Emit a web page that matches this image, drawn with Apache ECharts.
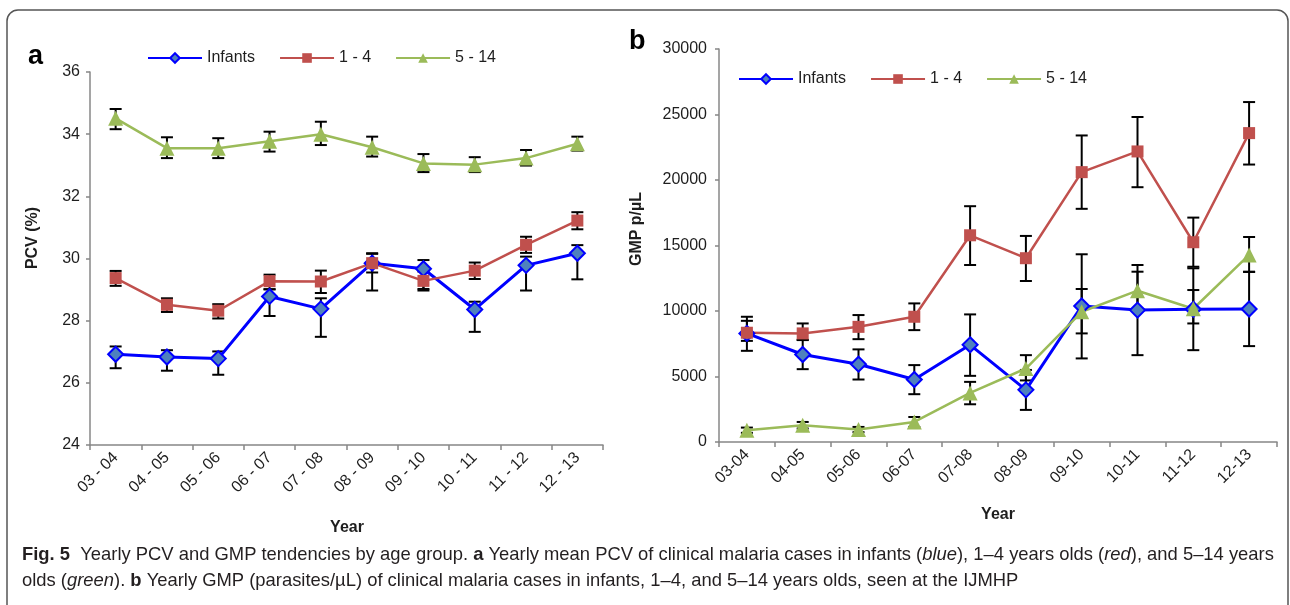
<!DOCTYPE html>
<html>
<head>
<meta charset="utf-8">
<script src="https://cdn.jsdelivr.net/npm/echarts@6/dist/echarts.min.js"></script>
<style>
html,body{margin:0;padding:0;background:#fff;}
#chart{width:1290px;height:605px;}
</style>
</head>
<body>
<div id="chart"></div>
<script>
// ---- data ----
const categoriesA = ['03 - 04','04 - 05','05 - 06','06 - 07','07 - 08','08 - 09','09 - 10','10 - 11','11 - 12','12 - 13'];
const categoriesB = ['03-04','04-05','05-06','06-07','07-08','08-09','09-10','10-11','11-12','12-13'];
const seriesNames = ['Infants','1 - 4','5 - 14'];
const yTicksA = [24, 36, 2];
const yTicksB = [0, 30000, 5000];

// Panel a: PCV (%)
const pcvInfants     = [26.92, 26.83, 26.78, 28.78, 28.38, 29.85, 29.67, 28.36, 29.78, 30.17];
const pcvInfantsLow  = [26.47, 26.39, 26.26, 28.15, 27.48, 28.97, 29.02, 27.64, 28.97, 29.33];
const pcvInfantsHigh = [27.17, 27.05, 27.01, 29.01, 28.72, 30.17, 29.95, 28.61, 30.06, 30.43];
const pcv1to4        = [29.37, 28.51, 28.32, 29.27, 29.26, 29.85, 29.28, 29.61, 30.44, 31.22];
const pcv1to4Low     = [29.12, 28.28, 28.07, 29.01, 28.89, 29.55, 28.97, 29.34, 30.18, 30.94];
const pcv1to4High    = [29.60, 28.72, 28.53, 29.48, 29.61, 30.15, 29.58, 29.87, 30.70, 31.49];
const pcv5to14       = [34.51, 33.55, 33.55, 33.77, 34.00, 33.58, 33.06, 33.02, 33.23, 33.69];
const pcv5to14Low    = [34.16, 33.23, 33.23, 33.44, 33.65, 33.28, 32.78, 32.78, 32.99, 33.47];
const pcv5to14High   = [34.81, 33.90, 33.87, 34.08, 34.40, 33.92, 33.36, 33.26, 33.49, 33.92];

// Panel b: GMP p/µL
const gmpInfants     = [8290, 6680, 5940, 4770, 7420, 3980, 10380, 10070, 10130, 10150];
const gmpInfantsLow  = [6960, 5560, 4770, 3650, 5050, 2450, 6380, 6630, 7010, 7320];
const gmpInfantsHigh = [9560, 7800, 7070, 5870, 9740, 5500, 14330, 13510, 13260, 12980];
const gmp1to4        = [8340, 8290, 8790, 9560, 15780, 14030, 20600, 22180, 15250, 23580];
const gmp1to4Low     = [7720, 7780, 7850, 8540, 13510, 12290, 17800, 19450, 13380, 21180];
const gmp1to4High    = [9250, 9050, 9690, 10580, 18000, 15730, 23400, 24810, 17130, 25950];
const gmp5to14       = [900, 1280, 950, 1530, 3750, 5610, 9940, 11550, 10170, 14280];
const gmp5to14Low    = [700, 1030, 750, 1150, 2880, 4700, 8290, 10100, 9050, 13000];
const gmp5to14High   = [1100, 1530, 1150, 1910, 4590, 6630, 11680, 13000, 11600, 15650];

// ---- styling ----
const FONT = "'Liberation Sans', Arial, sans-serif";
const AXIS_COLOR = '#878787';
const TEXT_COLOR = '#1e1e1e';
const styles = [
  {color:'#0000FF', fill:'#4F81BD', symbol:'diamond', size:15, width:3},
  {color:'#C0504D', fill:'#C0504D', symbol:'rect', size:12, width:2.5},
  {color:'#9BBB59', fill:'#9BBB59', symbol:'triangle', size:15, width:2.5}
];

function errRender(params, api) {
  const x = api.value(0), lo = api.value(1), hi = api.value(2);
  const a = api.coord([x, lo]), b = api.coord([x, hi]);
  const w = 6;
  const st = {stroke:'#000', lineWidth:2};
  return {type:'group', children:[
    {type:'line', shape:{x1:a[0], y1:a[1], x2:b[0], y2:b[1]}, style:st},
    {type:'line', shape:{x1:a[0]-w, y1:a[1], x2:a[0]+w, y2:a[1]}, style:st},
    {type:'line', shape:{x1:b[0]-w, y1:b[1], x2:b[0]+w, y2:b[1]}, style:st}
  ]};
}

function errSeries(name, lo, hi, idx) {
  return {
    type:'custom', name:name, xAxisIndex:idx, yAxisIndex:idx, z:1,
    renderItem: errRender, encode:{x:0, y:[1,2]},
    data: lo.map((v,i)=>[i, v, hi[i]]), silent:true
  };
}
function lineSeries(k, vals, idx) {
  const s = styles[k];
  return {
    type:'line', name:seriesNames[k], xAxisIndex:idx, yAxisIndex:idx, z:3,
    data: vals, symbol:s.symbol, symbolSize:s.size, showSymbol:true,
    lineStyle:{color:s.color, width:s.width},
    itemStyle:{color:s.fill, borderColor:s.color, borderWidth: k===0 ? 2 : 0},
    emphasis:{disabled:true}
  };
}

function yAxis(idx, t) {
  return {
    type:'value', gridIndex:idx, min:t[0], max:t[1], interval:t[2],
    axisLine:{show:true, lineStyle:{color:AXIS_COLOR, width:1.5}},
    axisTick:{show:true, length:4, lineStyle:{color:AXIS_COLOR, width:1.5}},
    splitLine:{show:false},
    axisLabel:{fontFamily:FONT, fontSize:16, color:TEXT_COLOR, margin: idx===0 ? 10 : 12,
               formatter: v => String(v)}
  };
}
function xAxis(idx, cats) {
  return {
    type:'category', gridIndex:idx, data:cats, boundaryGap:true,
    axisLine:{show:true, lineStyle:{color:AXIS_COLOR, width:1.5}},
    axisTick:{show:true, length:5, lineStyle:{color:AXIS_COLOR, width:1.5}},
    axisLabel:{fontFamily:FONT, fontSize:16, color:TEXT_COLOR, rotate:45, margin:10, interval:0}
  };
}
function legend(left, top) {
  return {
    left:left, top:top, orient:'horizontal', itemWidth:54, itemHeight:12, itemGap:24, padding:0,
    data: seriesNames, selectedMode:false,
    textStyle:{fontFamily:FONT, fontSize:16, color:TEXT_COLOR}
  };
}

const CAP = "18.4px 'Liberation Sans', sans-serif";
const CAPB = "bold 18.4px 'Liberation Sans', sans-serif";
const CAPI = "italic 18.4px 'Liberation Sans', sans-serif";

const chart = echarts.init(document.getElementById('chart'), null, {renderer:'canvas'});
const option = {
  animation:false,
  backgroundColor:'#fff',
  grid:[
    {left:90, top:72, width:513, height:373},
    {left:719, top:49, width:558, height:393}
  ],
  xAxis:[xAxis(0, categoriesA), xAxis(1, categoriesB)],
  yAxis:[yAxis(0, yTicksA), yAxis(1, yTicksB)],
  legend:[legend(147, 50), legend(738, 71)],
  series:[
    errSeries('eA0', pcvInfantsLow, pcvInfantsHigh, 0),
    errSeries('eA1', pcv1to4Low, pcv1to4High, 0),
    errSeries('eA2', pcv5to14Low, pcv5to14High, 0),
    errSeries('eB0', gmpInfantsLow, gmpInfantsHigh, 1),
    errSeries('eB1', gmp1to4Low, gmp1to4High, 1),
    errSeries('eB2', gmp5to14Low, gmp5to14High, 1),
    lineSeries(0, pcvInfants, 0),
    lineSeries(1, pcv1to4, 0),
    lineSeries(2, pcv5to14, 0),
    lineSeries(0, gmpInfants, 1),
    lineSeries(1, gmp1to4, 1),
    lineSeries(2, gmp5to14, 1)
  ],
  graphic:[
    {type:'rect', z:-10, silent:true, shape:{x:7, y:10, width:1281, height:640, r:[11,11,0,0]},
     style:{fill:'none', stroke:'#555', lineWidth:1.5}},
    {type:'text', left:28, top:43, style:{text:'a', font:"bold 27px 'Liberation Sans', Arial", fill:'#000'}},
    {type:'text', left:629, top:28, style:{text:'b', font:"bold 27px 'Liberation Sans', Arial", fill:'#000'}},
    {type:'text', x:33, y:238, rotation:Math.PI/2, style:{text:'PCV (%)', font:"bold 16px 'Liberation Sans', Arial", fill:TEXT_COLOR, align:'center', verticalAlign:'middle'}},
    {type:'text', x:347, y:528, style:{text:'Year', font:"bold 16px 'Liberation Sans', Arial", fill:TEXT_COLOR, align:'center', verticalAlign:'middle'}},
    {type:'text', x:637, y:229, rotation:Math.PI/2, style:{text:'GMP p/µL', font:"bold 16px 'Liberation Sans', Arial", fill:TEXT_COLOR, align:'center', verticalAlign:'middle'}},
    {type:'text', x:998, y:515, style:{text:'Year', font:"bold 16px 'Liberation Sans', Arial", fill:TEXT_COLOR, align:'center', verticalAlign:'middle'}},
    {type:'text', x:22, y:555, style:{
      text:'{b|Fig. 5}  Yearly PCV and GMP tendencies by age group. {b|a} Yearly mean PCV of clinical malaria cases in infants ({i|blue}), 1–4 years olds ({i|red}), and 5–14 years',
      font:CAP, fill:'#231f20', verticalAlign:'middle',
      rich:{b:{font:CAPB, fill:'#231f20'}, i:{font:CAPI, fill:'#231f20'}}
    }},
    {type:'text', x:22, y:581, style:{
      text:'olds ({i|green}). {b|b} Yearly GMP (parasites/µL) of clinical malaria cases in infants, 1–4, and 5–14 years olds, seen at the IJMHP',
      font:CAP, fill:'#231f20', verticalAlign:'middle',
      rich:{b:{font:CAPB, fill:'#231f20'}, i:{font:CAPI, fill:'#231f20'}}
    }}
  ]
};
chart.setOption(option);
</script>
</body>
</html>
